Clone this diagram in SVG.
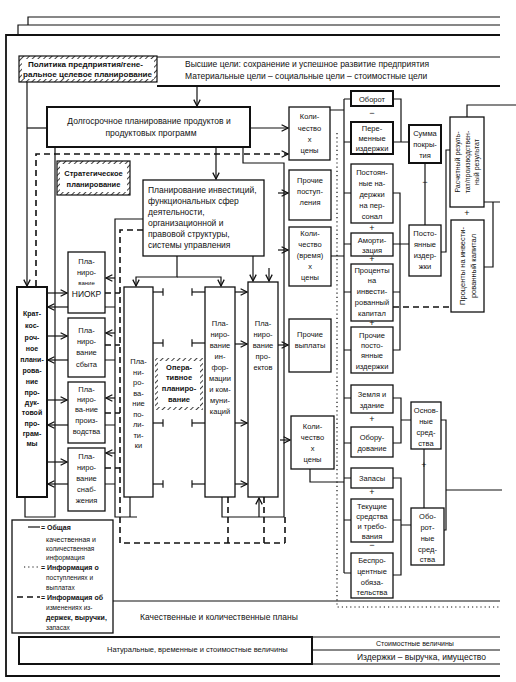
<svg xmlns="http://www.w3.org/2000/svg" width="516" height="682" viewBox="0 0 516 682">
<style>
.bx{fill:#fff;stroke:#111;stroke-width:1.3}
.bk{fill:#fff;stroke:#111;stroke-width:2}
.ln{fill:none;stroke:#111;stroke-width:1.2}
.lt{fill:none;stroke:#111;stroke-width:1.8}
.da{fill:none;stroke:#111;stroke-width:1.6;stroke-dasharray:6 4}
.dt{fill:none;stroke:#111;stroke-width:1.2;stroke-dasharray:1.2 3}
.t{font-family:"Liberation Sans",Arial,sans-serif;font-size:7.5px;fill:#111;text-anchor:middle}
.s{font-family:"Liberation Sans",Arial,sans-serif;font-size:8.5px;fill:#111}
.b{font-weight:bold}
.l{text-anchor:start}
.sg{font-family:"Liberation Sans",Arial,sans-serif;font-size:9px;fill:#111;text-anchor:middle}
</style>
<defs>
<pattern id="hatch" width="4" height="4" patternUnits="userSpaceOnUse" patternTransform="rotate(45)"><rect width="4" height="4" fill="#fff"/><line x1="0" y1="0" x2="0" y2="4" stroke="#111" stroke-width="1.6"/></pattern>
<marker id="ah" viewBox="0 0 10 10" refX="9" refY="5" markerWidth="8" markerHeight="8" markerUnits="userSpaceOnUse" orient="auto-start-reverse"><path d="M1,1 L9,5 L1,9" fill="none" stroke="#111" stroke-width="1.6"/></marker>
<marker id="tk" viewBox="0 0 4 10" refX="2" refY="5" markerWidth="3" markerHeight="8" markerUnits="userSpaceOnUse" orient="auto"><path d="M2,0 V10" stroke="#111" stroke-width="1.6"/></marker>
</defs>
<rect width="516" height="682" fill="#fff"/>

<g id="frame">
<path class="ln" d="M28,25 V17 H500"/>
<path class="ln" d="M18,35 V25 H500"/>
<path class="lt" d="M500,35 H6 V676 H500"/>
<path class="ln" d="M157,57 H500"/>
<path class="lt" d="M157,86 H500"/>
<path class="ln" d="M113,601 H500"/>
<path class="ln" d="M312,637 H500 M312,650 H500 M312,664 H500"/>
</g>

<g id="header">
<rect x="19" y="56" width="138" height="26" fill="url(#hatch)" stroke="#111" stroke-width="1.2"/>
<rect x="22" y="59" width="132" height="20" fill="#fff"/>
<text class="s b l" style="font-size:7px" x="28" y="67" textLength="115" lengthAdjust="spacingAndGlyphs">Политика предприятия/гене-</text>
<text class="s b l" style="font-size:7px" x="23" y="77" textLength="129" lengthAdjust="spacingAndGlyphs">ральное целевое планирование</text>
<text class="s l" x="185" y="67">Высшие цели: сохранение и успешное развитие предприятия</text>
<text class="s l" x="185" y="79">Материальные цели – социальные цели – стоимостные цели</text>
</g>

<g id="longterm">
<rect class="bk" x="47" y="107" width="203" height="40"/>
<text class="s" text-anchor="middle" x="149" y="124">Долгосрочное планирование продуктов и</text>
<text class="s" text-anchor="middle" x="151" y="136">продуктовых программ</text>
</g>

<g id="strategic">
<rect x="57" y="161" width="73" height="34" fill="url(#hatch)" stroke="#111" stroke-width="1.2"/>
<rect x="60" y="164" width="67" height="28" fill="#fff"/>
<text class="t b" x="93.5" y="176">Стратегическое</text>
<text class="t b" x="93.5" y="187">планирование</text>
</g>

<g id="invest">
<rect class="bx" x="143" y="180" width="121" height="76"/>
<text class="s l" x="148" y="193">Планирование инвестиций,</text>
<text class="s l" x="148" y="204">функциональных сфер</text>
<text class="s l" x="148" y="215">деятельности,</text>
<text class="s l" x="148" y="226">организационной и</text>
<text class="s l" x="148" y="237">правовой структуры,</text>
<text class="s l" x="148" y="248">системы управления</text>
</g>

<g id="shortterm">
<rect class="bk" x="17" y="287" width="30" height="210"/>
<g class="t b" style="font-size:7px">
<text x="32" y="316">Крат-</text><text x="32" y="328">кос-</text><text x="32" y="340">роч-</text><text x="32" y="351">ное</text><text x="32" y="362">плани-</text><text x="32" y="373">рова-</text><text x="32" y="384">ние</text><text x="32" y="395">про-</text><text x="32" y="405">дук-</text><text x="32" y="415">товой</text><text x="32" y="426">про-</text><text x="32" y="436">грам-</text><text x="32" y="446">мы</text>
</g>
</g>

<g id="p-niokr">
<rect class="bx" x="68" y="252" width="37" height="61"/>
<text class="t" x="86.5" y="264">Пла-</text><text class="t" x="86.5" y="275">ниро-</text><text class="t" style="font-size:6px" x="86.5" y="285">вание</text><text class="t" style="font-size:8.5px" x="86.5" y="297">НИОКР</text>
</g>
<g id="p-sbyt">
<rect class="bx" x="68" y="318" width="37" height="59"/>
<text class="t" x="86.5" y="333">Пла-</text><text class="t" x="86.5" y="344">ниро-</text><text class="t" x="86.5" y="355">вание</text><text class="t" x="86.5" y="367">сбыта</text>
</g>
<g id="p-proizv">
<rect class="bx" x="68" y="382" width="37" height="61"/>
<text class="t" x="86.5" y="392">Пла-</text><text class="t" x="86.5" y="402">ниро-</text><text class="t" x="86.5" y="412">ва-ние</text><text class="t" x="86.5" y="423">произ-</text><text class="t" x="86.5" y="434">водства</text>
</g>
<g id="p-snab">
<rect class="bx" x="68" y="448" width="37" height="63"/>
<text class="t" x="86.5" y="459">Пла-</text><text class="t" x="86.5" y="470">ниро-</text><text class="t" x="86.5" y="481">вание</text><text class="t" x="86.5" y="492">снаб-</text><text class="t" x="86.5" y="503">жения</text>
</g>

<g id="c-policy">
<rect class="bx" x="124" y="287" width="29" height="210"/>
<text class="t" x="138.5" y="364">Пла-</text><text class="t" x="138.5" y="374.5">ни-</text><text class="t" x="138.5" y="385">ро-</text><text class="t" x="138.5" y="395.5">ва-</text><text class="t" x="138.5" y="406">ние</text><text class="t" x="138.5" y="416.5">по-</text><text class="t" x="138.5" y="427">ли-</text><text class="t" x="138.5" y="437.5">ти-</text><text class="t" x="138.5" y="448">ки</text>
</g>
<g id="operative">
<rect x="155" y="358" width="48" height="52" fill="url(#hatch)" stroke="none"/>
<rect x="158" y="361" width="42" height="46" fill="#fff"/>
<text class="t b" x="179" y="370">Опера-</text><text class="t b" x="179" y="380">тивное</text><text class="t b" x="179" y="391">планиро-</text><text class="t b" x="179" y="402">вание</text>
</g>
<g id="c-info">
<rect class="bx" x="205" y="287" width="30" height="210"/>
<text class="t" x="220" y="326">Пла-</text><text class="t" x="220" y="337">ниро-</text><text class="t" x="220" y="348">вание</text><text class="t" x="220" y="359">ин-</text><text class="t" x="220" y="370">фор-</text><text class="t" x="220" y="381">мации</text><text class="t" x="220" y="392">и ком-</text><text class="t" x="220" y="403">муни-</text><text class="t" x="220" y="414">каций</text>
</g>
<g id="c-project">
<rect class="bx" x="248" y="282" width="30" height="215"/>
<text class="t" x="263" y="326">Пла-</text><text class="t" x="263" y="337">ниро-</text><text class="t" x="263" y="348">вание</text><text class="t" x="263" y="359">про-</text><text class="t" x="263" y="370">ектов</text>
</g>

<g id="q-top">
<rect class="bx" x="289" y="107" width="41" height="53"/>
<text class="t" x="309.5" y="119">Коли-</text><text class="t" x="309.5" y="131">чество</text><text class="t" x="309.5" y="142">х</text><text class="t" x="309.5" y="153">цены</text>
</g>
<g id="other-in">
<rect class="bx" x="289" y="170" width="42" height="50"/>
<text class="t" x="310" y="183">Прочие</text><text class="t" x="310" y="194">поступ-</text><text class="t" x="310" y="205">ления</text>
</g>
<g id="q-time">
<rect class="bx" x="289" y="227" width="42" height="59"/>
<text class="t" x="310" y="236">Коли-</text><text class="t" x="310" y="247">чество</text><text class="t" x="310" y="258">(время)</text><text class="t" x="310" y="269">х</text><text class="t" x="310" y="280">цены</text>
</g>
<g id="other-out">
<rect class="bx" x="289" y="319" width="42" height="53"/>
<text class="t" x="310" y="337">Прочие</text><text class="t" x="310" y="348">выплаты</text>
</g>
<g id="q-bottom">
<rect class="bx" x="291" y="416" width="43" height="53"/>
<text class="t" x="312.5" y="429">Коли-</text><text class="t" x="312.5" y="440">чество</text><text class="t" x="312.5" y="451">х</text><text class="t" x="312.5" y="462">цены</text>
</g>

<g id="turnover"><rect class="bk" x="351" y="91" width="42" height="15"/><text class="t" x="372" y="102">Оборот</text></g>
<g id="varcost"><rect class="bk" x="351" y="122" width="42" height="32"/><text class="t" x="372" y="131">Пере-</text><text class="t" x="372" y="141">менные</text><text class="t" x="372" y="151">издержки</text></g>
<g id="fix-pers"><rect class="bx" x="351" y="164" width="42" height="59"/><text class="t" x="372" y="175">Постоян-</text><text class="t" x="372" y="186">ные на-</text><text class="t" x="372" y="197">держки</text><text class="t" x="372" y="208">на пер-</text><text class="t" x="372" y="219">сонал</text></g>
<g id="amort"><rect class="bx" x="351" y="233" width="42" height="23"/><text class="t" x="372" y="243">Аморти-</text><text class="t" x="372" y="253">зация</text></g>
<g id="interest"><rect class="bx" x="351" y="264" width="42" height="57"/><text class="t" x="372" y="273">Проценты</text><text class="t" x="372" y="283">на</text><text class="t" x="372" y="294">инвести-</text><text class="t" x="372" y="305">рованный</text><text class="t" x="372" y="316">капитал</text></g>
<g id="fix-other"><rect class="bx" x="351" y="327" width="42" height="46"/><text class="t" x="372" y="338">Прочие</text><text class="t" x="372" y="348">посто-</text><text class="t" x="372" y="358">янные</text><text class="t" x="372" y="369">издержки</text></g>
<g id="land"><rect class="bx" x="351" y="385" width="42" height="28"/><text class="t" x="372" y="397">Земля и</text><text class="t" x="372" y="408">здание</text></g>
<g id="equip"><rect class="bx" x="351" y="427" width="42" height="30"/><text class="t" x="372" y="440">Обору-</text><text class="t" x="372" y="451">дование</text></g>
<g id="stock"><rect class="bx" x="351" y="468" width="42" height="20"/><text class="t" x="372" y="481">Запасы</text></g>
<g id="current"><rect class="bx" x="351" y="499" width="42" height="43"/><text class="t" x="372" y="509">Текущие</text><text class="t" x="372" y="519">средства</text><text class="t" x="372" y="529">и требо-</text><text class="t" x="372" y="539">вания</text></g>
<g id="noint"><rect class="bx" x="351" y="553" width="42" height="45"/><text class="t" x="372" y="563">Беспро-</text><text class="t" x="372" y="574">центные</text><text class="t" x="372" y="585">обяза-</text><text class="t" x="372" y="595">тельства</text></g>

<g id="margin"><rect class="bk" x="409" y="125" width="32" height="38"/><text class="t" x="425" y="136">Сумма</text><text class="t" x="425" y="147">покры-</text><text class="t" x="425" y="158">тия</text></g>
<g id="fixcost"><rect class="bx" x="409" y="225" width="32" height="51"/><text class="t" x="425" y="236">Посто-</text><text class="t" x="425" y="247">янные</text><text class="t" x="425" y="258">издер-</text><text class="t" x="425" y="269">жки</text></g>
<g id="result"><rect class="bx" x="450" y="117" width="34" height="90"/>
<g transform="translate(467,162) rotate(-90)" class="t" style="font-size:7px"><text x="0" y="-7">Расчетный резуль-</text><text x="0" y="2.5">тат/производствен-</text><text x="0" y="12">ный результат</text></g></g>
<g id="interest2"><rect class="bx" x="451" y="220" width="33" height="92"/>
<g transform="translate(467.5,266) rotate(-90)" class="t"><text x="0" y="-3">Проценты на инвести-</text><text x="0" y="8">рованный капитал</text></g></g>
<g id="fixed-assets"><rect class="bx" x="411" y="402" width="30" height="47"/><text class="t" x="426" y="413">Основ-</text><text class="t" x="426" y="424">ные</text><text class="t" x="426" y="435">сред-</text><text class="t" x="426" y="446">ства</text></g>
<g id="current-assets"><rect class="bx" x="411" y="508" width="33" height="57"/><text class="t" x="427.5" y="519">Обо-</text><text class="t" x="427.5" y="530">рот-</text><text class="t" x="427.5" y="541">ные</text><text class="t" x="427.5" y="552">сред-</text><text class="t" x="427.5" y="562">ства</text></g>

<g id="signs" class="sg">
<text x="372" y="116">−</text><text x="372" y="231">+</text><text x="372" y="262">+</text><text x="372" y="326">+</text><text x="372" y="422">+</text><text x="372" y="495">+</text><text x="372" y="548">−</text>
<text x="425" y="185">−</text><text x="467" y="216">+</text><text x="424" y="468">+</text>
</g>

<g id="legend">
<rect class="bx" x="12" y="520" width="101" height="113"/>
<line class="ln" x1="28" y1="527" x2="40" y2="527"/>
<text class="t l b" style="font-size:7px" x="41" y="530">= Общая</text>
<text class="t l" style="font-size:7px" x="46" y="542">качественная и</text>
<text class="t l" style="font-size:6.5px" x="46" y="551">количественная</text>
<text class="t l" style="font-size:6.5px" x="46" y="560">информация</text>
<line class="dt" x1="24" y1="567" x2="40" y2="567"/>
<text class="t l b" style="font-size:7px" x="41" y="570">= Информация о</text>
<text class="t l" style="font-size:6.5px" x="46" y="580">поступлениях и</text>
<text class="t l" style="font-size:6.5px" x="46" y="590">выплатах</text>
<line class="da" x1="17" y1="597" x2="40" y2="597"/>
<text class="t l b" style="font-size:7px" x="41" y="600">= Информация об</text>
<text class="t l" style="font-size:6.5px" x="46" y="610">изменениях из-</text>
<text class="t l b" style="font-size:7px" x="46" y="620">держек, выручки,</text>
<text class="t l" style="font-size:6.5px" x="46" y="630">запасах</text>
</g>

<g id="bottom-labels">
<text class="s" x="140" y="620">Качественные и количественные планы</text>
<rect class="bk" x="19" y="637" width="293" height="27"/>
<text class="s" style="font-size:7.5px" x="107" y="652">Натуральные, временные и стоимостные величины</text>
<text class="s" style="font-size:7px" x="376" y="646">Стоимостные величины</text>
<text class="s" x="357" y="660">Издержки – выручка, имущество</text>
</g>

<g id="connectors">
<path class="ln" d="M197,86 V106" marker-end="url(#ah)"/>
<path class="ln" d="M27,82 V286" marker-end="url(#ah)"/>
<path class="ln" d="M27,128 H47"/>
<path class="ln" d="M250,128 H288" marker-end="url(#ah)"/>
<path class="da" d="M36,286 V154 H288" marker-end="url(#ah)"/>
<path class="ln" d="M55,147 V517 H25 V497"/>
<path class="ln" d="M216,147 V179" marker-end="url(#ah)"/>
<path class="ln" d="M243,147 V163 H284 V440"/>
<path class="ln" d="M278,193 H288" marker-end="url(#ah)"/>
<path class="ln" d="M278,250 H288" marker-end="url(#ah)"/>
<path class="ln" d="M278,345 H288" marker-end="url(#ah)"/>
<path class="ln" d="M280,440 H290" marker-end="url(#ah)"/>
<path class="ln" d="M177,256 V277 H136 V286" marker-end="url(#ah)"/>
<path class="ln" d="M177,277 H221 V286" marker-end="url(#ah)"/>
<path class="ln" d="M253,256 V281" marker-end="url(#ah)"/>
<path class="ln" d="M269,268 V281" marker-end="url(#ah)"/>
<path class="ln" d="M143,219 H115 V517 H137"/>
<path class="da" d="M143,230 H120 V543 H285"/>
<path class="ln" d="M115,278 H106" marker-end="url(#ah)"/>
<path class="ln" d="M115,333 H106" marker-end="url(#ah)"/>
<path class="ln" d="M115,398 H106" marker-end="url(#ah)"/>
<path class="ln" d="M115,453 H106" marker-end="url(#ah)"/>
<path class="da" d="M105,293 H120 M105,345 H120 M105,413 H120 M105,468 H120"/>
<path class="ln" d="M105,307 H115 M105,360 H115 M105,425 H115 M105,484 H115"/>
<path class="ln" d="M47,293 H67" marker-end="url(#ah)"/>
<path class="ln" d="M68,307 H48" marker-end="url(#ah)"/>
<path class="ln" d="M47,336 H67" marker-end="url(#ah)"/>
<path class="ln" d="M68,360 H48" marker-end="url(#ah)"/>
<path class="ln" d="M47,400 H67" marker-end="url(#ah)"/>
<path class="ln" d="M68,425 H48" marker-end="url(#ah)"/>
<path class="ln" d="M47,462 H67" marker-end="url(#ah)"/>
<path class="ln" d="M68,484 H48" marker-end="url(#ah)"/>
<path class="ln" d="M153,292 H163" marker-end="url(#tk)"/>
<path class="ln" d="M153,343 H163" marker-end="url(#tk)"/>
<path class="ln" d="M153,423 H163" marker-end="url(#tk)"/>
<path class="ln" d="M153,484 H163" marker-end="url(#tk)"/>
<path class="ln" d="M192,292 H205" marker-start="url(#tk)"/>
<path class="ln" d="M192,343 H205" marker-start="url(#tk)"/>
<path class="ln" d="M192,423 H205" marker-start="url(#tk)"/>
<path class="ln" d="M192,484 H205" marker-start="url(#tk)"/>
<path class="ln" d="M235,292 H247" marker-end="url(#ah)"/>
<path class="ln" d="M235,344 H247" marker-end="url(#ah)"/>
<path class="ln" d="M235,423 H247" marker-end="url(#ah)"/>
<path class="ln" d="M235,484 H247" marker-end="url(#ah)"/>
<path class="ln" d="M130,497 V517 M222,497 V517 H284 V440"/>
<path class="ln" d="M259,517 V498" marker-end="url(#ah)"/>
<path class="da" d="M228,497 V543 M264,497 V543 M285,517 V543"/>
<path class="dt" d="M337,133 V607 H500"/>
<path class="ln" d="M330,110 H344 M344,99 V573"/>
<path class="ln" d="M331,256 H344 M310,469 V482 H344"/>
<path class="ln" d="M344,99 H351 M344,142 H351 M344,193 H351 M344,244 H351 M344,292 H351 M344,350 H351 M344,398 H351 M344,443 H351 M344,478 H351 M344,520 H351 M344,573 H351"/>
<path class="ln" d="M393,99 H401 V142 H409 M393,142 H401"/>
<path class="ln" d="M393,193 H400 V350 H393 M393,244 H409 M393,292 H400"/>
<path class="ln" d="M425,163 V225"/>
<path class="ln" d="M441,252 H446 V150 H450"/>
<path class="da" d="M393,307 H451"/>
<path class="ln" d="M467,117 V105 H516"/>
<path class="ln" d="M484,202 H500 M493,202 V267 H484"/>
<path class="ln" d="M393,398 H401 V443 H393 M401,420 H411"/>
<path class="ln" d="M393,478 H401 V575 H393 M393,520 H401 M401,525 H411"/>
<path class="ln" d="M424,449 V508"/>
<path class="ln" d="M441,420 H446 V530 H444 M446,490 H502"/>
</g>
</svg>
